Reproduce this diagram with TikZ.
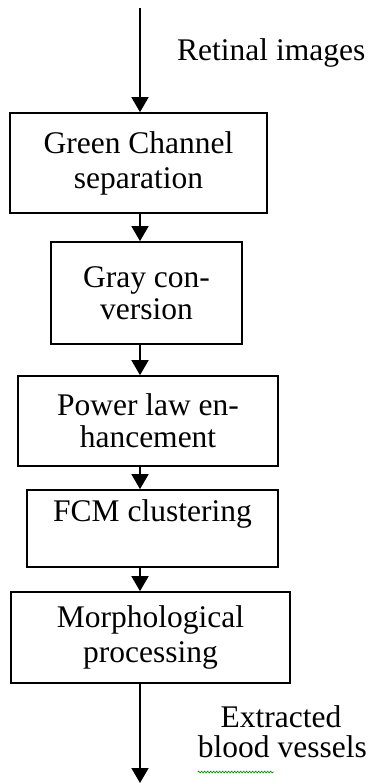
\documentclass[tikz,border=0pt]{standalone}
\usepackage{fontspec}
\setmainfont{Liberation Serif}
\usetikzlibrary{arrows.meta,decorations.pathmorphing}
\begin{document}
\begin{tikzpicture}[x=1pt,y=-1pt,
  stepbox/.style={draw=black,line width=1.7pt,align=center,inner sep=0pt,
    font=\fontsize{31.5}{35}\selectfont},
  flow/.style={line width=1.7pt,-{Triangle[width=17pt,length=15pt]}},
  lbl/.style={font=\fontsize{31.5}{35}\selectfont,inner sep=0pt}]
\useasboundingbox (0,0) rectangle (368,784);
\fill[white] (0,0) rectangle (368,784);

\coordinate (top) at (140,8);
\coordinate (bottom) at (140,783);

\node[stepbox,minimum width=257pt,minimum height=100pt] (b1) at (138.5,163)
  {Green Channel\\separation};
\node[stepbox,minimum width=191pt,minimum height=102pt] (b2) at (146.5,293)
  {Gray con-\\[-3pt]version};
\node[stepbox,minimum width=260pt,minimum height=90pt] (b3) at (148,421)
  {Power law en-\\[-3pt]hancement};
\node[stepbox,minimum width=251pt,minimum height=77pt] (b4) at (152.5,528.5)
  {FCM clustering\\\mbox{}};
\node[stepbox,minimum width=279pt,minimum height=91pt] (b5) at (150.5,637.5)
  {Morphological\\processing};

\draw[flow] (top) -- (b1.north -| top);
\draw[flow] (b1.south -| top) -- (b2.north -| top);
\draw[flow] (b2.south -| top) -- (b3.north -| top);
\draw[flow] (b3.south -| top) -- (b4.north -| top);
\draw[flow] (b4.south -| top) -- (b5.north -| top);
\draw[flow] (b5.south -| top) -- (bottom);

\node[lbl,anchor=base west] (in) at (177,60) {Retinal images};
\node[lbl,anchor=base] (out1) at (281,727) {Extracted};
\node[lbl,anchor=base east] (out2) at (367,757) {blood vessels};
\draw[green!60!black,line width=0.7pt,decorate,
  decoration={snake,amplitude=0.9pt,segment length=3pt}]
  (out2.base west) ++(0,15) -- ++(76,0);
\end{tikzpicture}
\end{document}
